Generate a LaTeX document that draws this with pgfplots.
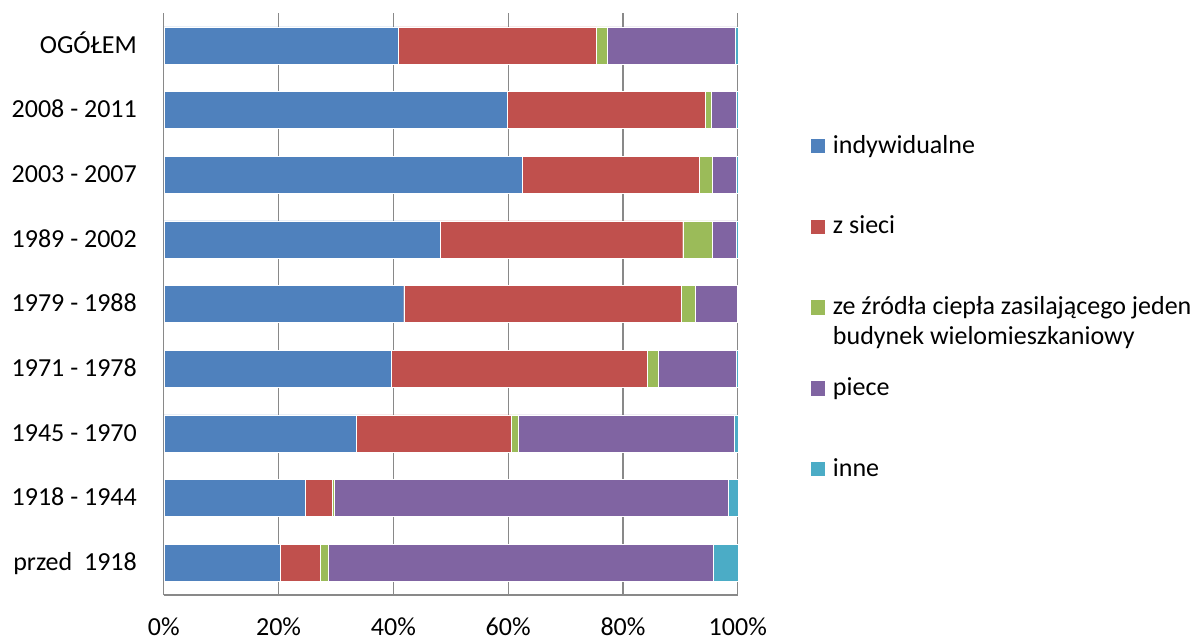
\documentclass[border=0pt]{standalone}
\usepackage{fontspec}
\setmainfont{Carlito}
\usepackage{pgfplots}
\pgfplotsset{compat=1.18}
\usepackage{pgfplotstable}

\definecolor{cInd}{HTML}{4F81BD}
\definecolor{cNet}{HTML}{C0504D}
\definecolor{cSrc}{HTML}{9BBB59}
\definecolor{cStove}{HTML}{8064A2}
\definecolor{cOther}{HTML}{4BACC6}
\definecolor{gridgray}{HTML}{898989}

% shares of heating type (%), by construction period; row 0 = bottom bar
\pgfplotstableread{
row ind   net   src  stove other
0   20.3  6.9   1.5  67.0  4.3
1   24.7  4.6   0.4  68.6  1.7
2   33.6  26.9  1.2  37.7  0.6
3   39.7  44.6  1.8  13.6  0.3
4   41.8  48.4  2.3  7.4   0.1
5   48.1  42.3  5.2  4.1   0.3
6   62.5  30.8  2.2  4.2   0.3
7   59.9  34.4  1.0  4.4   0.3
8   40.8  34.5  2.0  22.2  0.5
}\heating

\pgfplotsset{
  sqlegend/.style={legend image code/.code={\path[##1,draw=none] (0bp,-7.25bp) rectangle (14.5bp,7.25bp);}},
}

\newcommand{\bigfont}{\fontsize{26bp}{30bp}\selectfont}

\begin{document}
\begin{tikzpicture}
\useasboundingbox (0,0) rectangle (1204bp,642bp);
\begin{axis}[
  at={(163.8bp,47bp)}, anchor=south west,
  width=574bp, height=582bp, scale only axis,
  xbar stacked, bar width=37bp,
  xmin=0, xmax=100, ymin=-0.5, ymax=8.5,
  xtick={0,20,40,60,80,100},
  xticklabels={0\%,20\%,40\%,60\%,80\%,100\%},
  ytick={0,...,8},
  yticklabels={przed\ \ 1918,1918 - 1944,1945 - 1970,1971 - 1978,1979 - 1988,1989 - 2002,2003 - 2007,2008 - 2011,OGÓŁEM},
  major tick length=0pt,
  axis x line*=bottom, axis y line*=left,
  axis line style={draw=gridgray, line width=1.3bp, -},
  xmajorgrids, grid style={draw=gridgray, line width=1.3bp},
  tick label style={font=\bigfont},
  yticklabel style={anchor=base east, inner sep=0pt, xshift=-26.8bp, yshift=-7.7bp},
  xticklabel style={anchor=base, inner sep=0pt, yshift=-40bp},
  legend cell align=left,
  legend style={draw=none, fill=none, font=\bigfont,
    at={(axis description cs:1.1275,0.7938)}, anchor=north west,
    inner sep=0pt, outer sep=0pt, row sep=54.75bp,
    nodes={inner sep=0pt, text height=20bp, text depth=6bp},
    /tikz/every odd column/.style={column sep=7.5bp}},
]
\addplot[fill=cInd, draw=white, line width=0.4bp, sqlegend] table[x=ind, y=row] {\heating};
\addlegendentry{indywidualne}
\addplot[fill=cNet, draw=white, line width=0.4bp, sqlegend] table[x=net, y=row] {\heating};
\addlegendentry{z sieci}
\addplot[fill=cSrc, draw=white, line width=0.4bp, sqlegend] table[x=src, y=row] {\heating};
\addlegendentry{\begin{tabular}[t]{@{}l@{}}ze źródła ciepła zasilającego jeden\\budynek wielomieszkaniowy\end{tabular}}
\addplot[fill=cStove, draw=white, line width=0.4bp, sqlegend] table[x=stove, y=row] {\heating};
\addlegendentry{piece}
\addplot[fill=cOther, draw=white, line width=0.4bp, sqlegend] table[x=other, y=row] {\heating};
\addlegendentry{inne}
\end{axis}
\end{tikzpicture}
\end{document}
